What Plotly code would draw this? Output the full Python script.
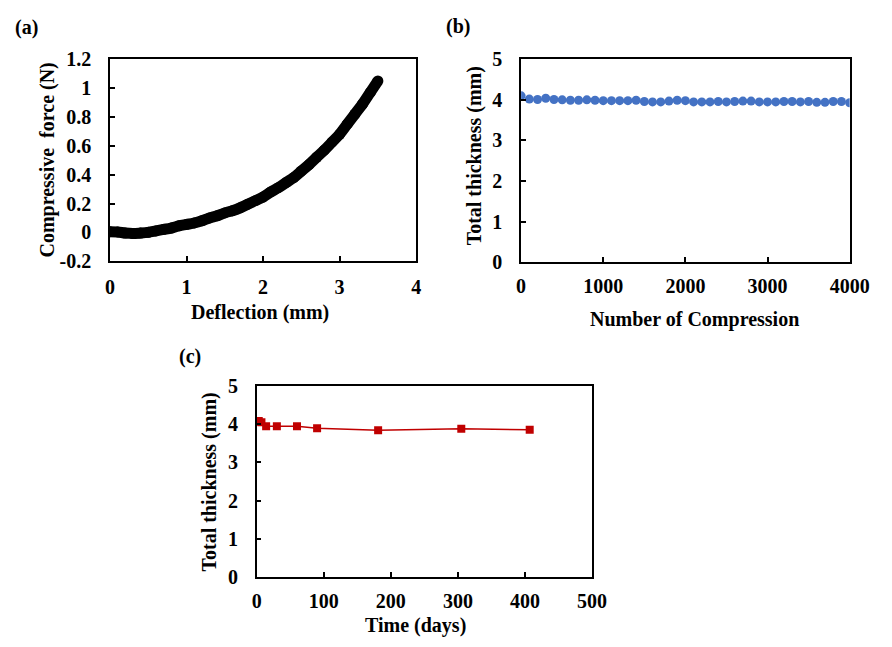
import plotly.graph_objects as go

W, H = 892, 647

# ---------------- data ----------------
# (a) force-deflection curve (centre line of the dense measured band)
defl_mm = [0, 0.1, 0.2, 0.3, 0.4, 0.5, 0.6, 0.7, 0.8, 0.9, 1.0, 1.1, 1.2, 1.3, 1.4,
           1.5, 1.6, 1.7, 1.8, 1.9, 2.0, 2.1, 2.2, 2.3, 2.4, 2.5, 2.6, 2.7, 2.8, 2.9,
           3.0, 3.1, 3.2, 3.3, 3.4, 3.5]
force_n = [0.005, 0.003, -0.005, -0.008, -0.005, 0.0, 0.01, 0.02, 0.03, 0.045, 0.055,
           0.065, 0.08, 0.10, 0.115, 0.135, 0.15, 0.17, 0.195, 0.22, 0.245, 0.28, 0.31,
           0.345, 0.38, 0.425, 0.47, 0.52, 0.57, 0.625, 0.68, 0.75, 0.82, 0.89, 0.97, 1.05]

# (b) thickness vs number of compressions
n_compress = list(range(0, 4001, 100))
thick_b = [4.10, 4.02, 4.01, 4.04, 4.01, 4.00, 3.99, 3.99, 4.00, 3.99, 3.98, 3.98, 3.98,
           3.98, 3.99, 3.96, 3.95, 3.95, 3.97, 3.99, 3.98, 3.95, 3.95, 3.95, 3.96, 3.95,
           3.96, 3.97, 3.97, 3.95, 3.95, 3.95, 3.96, 3.96, 3.95, 3.96, 3.94, 3.94, 3.96,
           3.96, 3.93]

# (c) thickness vs time
time_days = [0, 1, 3, 7, 14, 30, 60, 90, 181, 305, 407]
thick_c = [4.08, 4.06, 4.08, 4.05, 3.94, 3.94, 3.94, 3.89, 3.84, 3.88, 3.85]

# tick labels
a_xticks = [0, 1, 2, 3, 4]
a_yticks = [-0.2, 0, 0.2, 0.4, 0.6, 0.8, 1.0, 1.2]
a_ytext = ["-0.2", "0", "0.2", "0.4", "0.6", "0.8", "1", "1.2"]
b_xticks = [0, 1000, 2000, 3000, 4000]
thick_ticks = [0, 1, 2, 3, 4, 5]
c_xticks = [0, 100, 200, 300, 400, 500]

FONT = '"Liberation Serif", "Times New Roman", serif'
TICKF = dict(family=FONT, size=20, color="black", weight="bold")
TITLEF = dict(family=FONT, size=20, color="black", weight="bold")


def px_x(p):
    return p / W


def px_y(p):
    return 1 - p / H


fig = go.Figure()

fig.add_trace(go.Scatter(x=defl_mm, y=force_n, mode="lines+markers",
                         line=dict(color="black", width=11, shape="spline"),
                         marker=dict(color="black", size=11),
                         xaxis="x", yaxis="y", showlegend=False))
fig.add_trace(go.Scatter(x=n_compress, y=thick_b, mode="markers",
                         marker=dict(color="#4472C4", size=9),
                         xaxis="x2", yaxis="y2", showlegend=False))
fig.add_trace(go.Scatter(x=time_days, y=thick_c, mode="lines+markers",
                         line=dict(color="#C00000", width=1.5),
                         marker=dict(color="#C00000", size=8, symbol="square"),
                         xaxis="x3", yaxis="y3", showlegend=False))

common = dict(showline=True, linecolor="#000000", linewidth=1.5, mirror=True,
              ticks="inside", ticklen=5, tickwidth=1.5, tickcolor="#000000",
              showgrid=False, zeroline=False, tickfont=TICKF)

fig.update_layout(
    width=W, height=H, margin=dict(l=0, r=0, t=0, b=0),
    paper_bgcolor="white", plot_bgcolor="white",
    xaxis=dict(domain=[px_x(108), px_x(423)], anchor="y", range=[0, 4],
               tickvals=a_xticks, ticklabelstandoff=7, **common),
    yaxis=dict(domain=[px_y(259), px_y(50)], anchor="x", range=[-0.2, 1.2],
               tickvals=a_yticks, ticktext=a_ytext, ticklabelstandoff=13, **common),
    xaxis2=dict(domain=[px_x(531), px_x(869)], anchor="y2", range=[0, 4000],
                tickvals=b_xticks, ticklabelstandoff=5, **common),
    yaxis2=dict(domain=[px_y(260), px_y(50)], anchor="x2", range=[0, 5],
                tickvals=thick_ticks, ticklabelstandoff=13, **common),
    xaxis3=dict(domain=[px_x(259), px_x(604)], anchor="y3", range=[0, 500],
                tickvals=c_xticks, ticklabelstandoff=5, **common),
    yaxis3=dict(domain=[px_y(586), px_y(388)], anchor="x3", range=[0, 5],
                tickvals=thick_ticks, ticklabelstandoff=13, **common),
)

anns = [
    ("(a)", 22, 17, 0),
    ("(b)", 466, 16, 0),
    ("(c)", 190, 358, 0),
    ("Compressive\u00a0\u00a0force (N)", 44, 154, -90),
    ("Deflection (mm)", 262, 312, 0),
    ("Total thickness (mm)", 483, 150, -90),
    ("Number of Compression", 709, 319, 0),
    ("Total thickness (mm)", 210, 488, -90),
    ("Time (days)", 422, 636, 0),
]
for text, x, y, ang in anns:
    fig.add_annotation(text=text, x=px_x(x), y=px_y(y), xref="paper", yref="paper",
                       showarrow=False, textangle=ang, xanchor="center", yanchor="middle",
                       font=TITLEF)

fig.write_html("out.html")
